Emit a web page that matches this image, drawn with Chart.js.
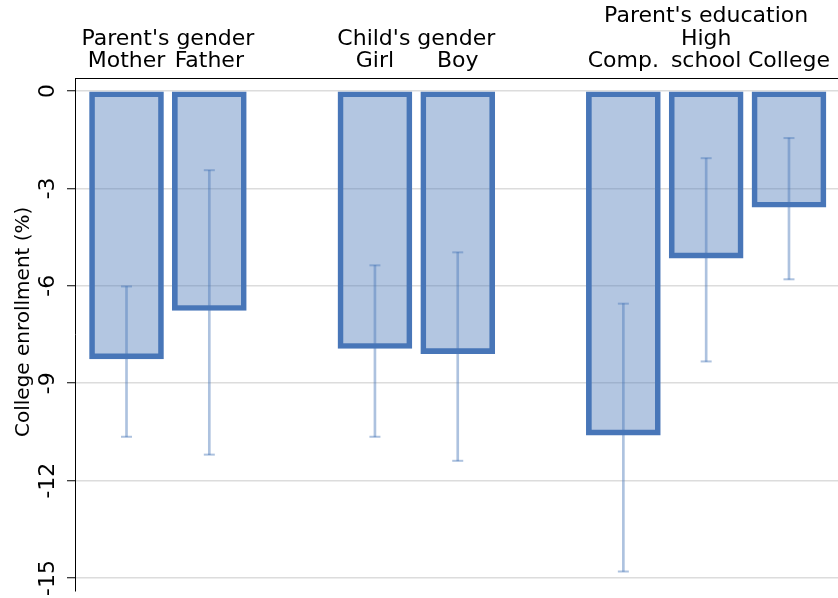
<!DOCTYPE html>
<html>
<head>
<meta charset="utf-8">
<script src="https://cdn.jsdelivr.net/npm/chart.js@4.4.1/dist/chart.umd.min.js"></script>
<style>
  html, body { margin: 0; padding: 0; background: #fff; overflow: hidden; }
  canvas { display: block; }
</style>
</head>
<body>
<canvas id="chart" width="838" height="598"></canvas>
<script>
// bar categories and where they sit on the x axis (gaps between groups)
const categories = [['Mother'], ['Father'], ['Girl'], ['Boy'], ['Comp.'], ['High', 'school'], ['College']];
const positions = [0, 1, 3, 4, 6, 7, 8];
const groups = ["Parent's gender", "Child's gender", "Parent's education"];
const groupPositions = [0.5, 3.5, 7];

// college enrollment change (%) and 95% CI
const values = [-8.25, -6.76, -7.93, -8.09, -10.6, -5.15, -3.58];
const ciLow = [-10.65, -11.2, -10.65, -11.39, -14.8, -8.33, -5.8];
const ciHigh = [-6.02, -2.44, -5.37, -4.97, -6.55, -2.07, -1.45];

const yTicks = [0, -3, -6, -9, -12, -15];

const FONT = 'DejaVu Sans';
const BLUE = 'rgb(72,118,184)';
const ERR = 'rgba(74,120,184,0.45)';

// top axis labels: category names, with group titles stacked above
const topLabels = {};
positions.forEach((p, i) => { topLabels[p] = categories[i].slice(); });
groupPositions.forEach((p, i) => {
  if (topLabels[p]) topLabels[p] = [groups[i]].concat(topLabels[p]);
  else topLabels[p] = [groups[i], ''];
});
const topTickValues = Object.keys(topLabels).map(Number).sort((a, b) => a - b);

new Chart(document.getElementById('chart'), {
  type: 'bar',
  data: {
    datasets: [
      {
        // error bar caps
        type: 'scatter',
        data: positions.map((p, i) => ({ x: p, y: ciLow[i] }))
          .concat(positions.map((p, i) => ({ x: p, y: ciHigh[i] }))),
        pointStyle: 'line',
        radius: 5.5,
        borderColor: ERR,
        borderWidth: 2,
        order: 1
      },
      {
        // error bar whiskers
        data: positions.map((p, i) => ({ x: p, y: [ciLow[i], ciHigh[i]] })),
        backgroundColor: ERR,
        borderWidth: 0,
        barThickness: 2,
        grouped: false,
        order: 2
      },
      {
        data: positions.map((p, i) => ({ x: p, y: values[i] })),
        backgroundColor: 'rgba(74,120,184,0.42)',
        borderColor: BLUE,
        borderWidth: 5,
        borderSkipped: false,
        barThickness: 74,
        grouped: false,
        order: 3
      }
    ]
  },
  options: {
    responsive: false,
    animation: false,
    layout: { autoPadding: false, padding: { top: 0, left: 0, right: 0, bottom: 7 } },
    plugins: { legend: { display: false }, tooltip: { enabled: false } },
    scales: {
      x: {
        type: 'linear',
        position: 'top',
        offset: false,
        min: -0.622,
        max: 8.592,
        grid: { display: false, drawTicks: false, offset: false },
        border: { display: true, color: '#000', width: 1 },
        afterBuildTicks: (scale) => { scale.ticks = topTickValues.map(v => ({ value: v })); },
        afterFit: (scale) => {
          scale.height = 78;
          scale.paddingLeft = 0;
          scale.paddingRight = 0;
        },
        ticks: {
          autoSkip: false,
          maxRotation: 0,
          minRotation: 0,
          padding: 5,
          color: '#000',
          font: { family: FONT, size: 22, lineHeight: 1.03 },
          callback: (v) => topLabels[v]
        }
      },
      y: {
        min: -15.4,
        max: 0.4,
        afterBuildTicks: (scale) => { scale.ticks = yTicks.map(v => ({ value: v })); },
        afterFit: (scale) => {
          scale.width = 75;
          scale.paddingTop = 0;
          scale.paddingBottom = 0;
        },
        grid: { color: '#dcdcdc', lineWidth: 1.5, tickColor: '#000', tickLength: 8, tickWidth: 1 },
        border: { display: true, color: '#000', width: 1 },
        ticks: {
          minRotation: 90,
          maxRotation: 90,
          crossAlign: 'center',
          padding: 1,
          color: '#000',
          font: { family: FONT, size: 22 },
          callback: (v) => String(v)
        },
        title: {
          display: true,
          text: '    College enrollment (%)',
          color: '#000',
          font: { family: FONT, size: 20 },
          padding: { top: 12, bottom: 0 }
        }
      }
    }
  }
});
</script>
</body>
</html>
